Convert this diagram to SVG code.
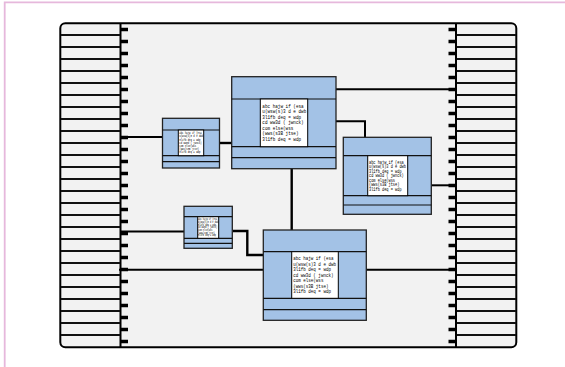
<svg xmlns="http://www.w3.org/2000/svg" width="565" height="367" viewBox="0 0 565 367">
<style>
.f{fill:#f2f2f2;stroke:#000;stroke-width:2}
.r{stroke:#111;stroke-width:1.8;fill:none}
.t{stroke:#000;stroke-width:3.4;fill:none}
.c{stroke:#000;stroke-width:2;fill:none}
.h{stroke:#000;stroke-width:2.4;fill:none}
.b{fill:#a3c2e6;stroke:#222;stroke-width:1.3}
.w{fill:#fff;stroke:#000;stroke-width:1}
.l{font-family:"Liberation Mono",monospace;fill:#000}
.s{stroke:#111;stroke-width:1.2;fill:none}
</style>
<rect x="0" y="0" width="565" height="367" fill="#fff"/>
<path d="M4.700 367V2.300H565" fill="none" stroke="#e6b8dc" stroke-width="1.800"/>
<g id="frame">
<rect class="f" x="60.300" y="23.300" width="456" height="324" rx="5"/>
<path class="c" d="M120.500 23.300V347.300M456 23.300V347.300"/>
<path id="slotsL" class="r" d="M61 35H120M61 47H120M61 59H120M61 71H120M61 83H120M61 95H120M61 107H120M61 119H120M61 131H120M61 143H120M61 155H120M61 167H120M61 179H120M61 191H120M61 203H120M61 215H120M61 227H120M61 239H120M61 251H120M61 263H120M61 275H120M61 287H120M61 299H120M61 311H120M61 323H120M61 335H120"/>
<path id="slotsR" class="r" d="M457 35H516M457 47H516M457 59H516M457 71H516M457 83H516M457 95H516M457 107H516M457 119H516M457 131H516M457 143H516M457 155H516M457 167H516M457 179H516M457 191H516M457 203H516M457 215H516M457 227H516M457 239H516M457 251H516M457 263H516M457 275H516M457 287H516M457 299H516M457 311H516M457 323H516M457 335H516"/>
<path id="pinsL" class="t" d="M121 29.500H128M121 41.500H128M121 53.500H128M121 65.500H128M121 77.500H128M121 89.500H128M121 101.500H128M121 113.500H128M121 125.500H128M121 137.500H128M121 149.500H128M121 161.500H128M121 173.500H128M121 185.500H128M121 197.500H128M121 209.500H128M121 221.500H128M121 233.500H128M121 245.500H128M121 257.500H128M121 269.500H128M121 281.500H128M121 293.500H128M121 305.500H128M121 317.500H128M121 329.500H128M121 341.500H128"/>
<path id="pinsR" class="t" d="M448.500 29.500H455.500M448.500 41.500H455.500M448.500 53.500H455.500M448.500 65.500H455.500M448.500 77.500H455.500M448.500 89.500H455.500M448.500 101.500H455.500M448.500 113.500H455.500M448.500 125.500H455.500M448.500 137.500H455.500M448.500 149.500H455.500M448.500 161.500H455.500M448.500 173.500H455.500M448.500 185.500H455.500M448.500 197.500H455.500M448.500 209.500H455.500M448.500 221.500H455.500M448.500 233.500H455.500M448.500 245.500H455.500M448.500 257.500H455.500M448.500 269.500H455.500M448.500 281.500H455.500M448.500 293.500H455.500M448.500 305.500H455.500M448.500 317.500H455.500M448.500 329.500H455.500M448.500 341.500H455.500"/>
</g>
<g id="connectors">
<path class="c" d="M120 137H163"/>
<path class="c" d="M120 231.500H184"/>
<path class="c" d="M119 269.700H263"/>
<path class="h" d="M220 143H232"/>
<path class="c" d="M336 89.300H456"/>
<path class="c" d="M336 121.300H365V138"/>
<path class="c" d="M431.500 185.300H456"/>
<path class="h" d="M291.700 168V230"/>
<path class="h" d="M233 231H247.300V255H263"/>
<path class="c" d="M366 269.700H456"/>
</g>
<g id="node1">
<rect class="b" x="162.500" y="118.300" width="57" height="49.700"/>
<path class="s" d="M162.500 130H219.500M162.500 155.700H219.500M162.500 161.700H219.500"/>
<rect class="w" x="178.300" y="130" width="25.400" height="25.700"/>
<g transform="translate(179.300,0) scale(.78,1)">
<text class="l" x="0" y="134.400" font-size="3">abc hajw if (esa</text>
<text class="l" x="0" y="137.500" font-size="3">u(wsw(s)3 d e dwb</text>
<text class="l" x="0" y="140.600" font-size="3">3l1fb deq = wdp</text>
<text class="l" x="0" y="143.700" font-size="3">cd ww3d ( jwnck)</text>
<text class="l" x="0" y="146.800" font-size="3">com else(wss</text>
<text class="l" x="0" y="149.900" font-size="3">(wws(s3B jtse)</text>
<text class="l" x="0" y="153" font-size="3">3l1fb deq = wdp</text>
</g>
</g>
<g id="node2">
<rect class="b" x="231.700" y="76.700" width="104.300" height="92"/>
<path class="s" d="M231.700 99H336M231.700 146.700H336M231.700 157.700H336"/>
<rect class="w" x="260.300" y="99" width="47.400" height="47.700"/>
<g transform="translate(262.300,0) scale(.8,1)">
<text class="l" x="0" y="107.800" font-size="5.400">abc hajw if (esa</text>
<text class="l" x="0" y="113.300" font-size="5.400">u(wsw(s)3 d e dwb</text>
<text class="l" x="0" y="118.800" font-size="5.400">3l1fb deq = wdp</text>
<text class="l" x="0" y="124.300" font-size="5.400">cd ww3d ( jwnck)</text>
<text class="l" x="0" y="129.800" font-size="5.400">com else(wss</text>
<text class="l" x="0" y="135.300" font-size="5.400">(wws(s3B jtse)</text>
<text class="l" x="0" y="140.800" font-size="5.400">3l1fb deq = wdp</text>
</g>
</g>
<g id="node3">
<rect class="b" x="343.300" y="137.300" width="88" height="77"/>
<path class="s" d="M343.300 155.700H431.300M343.300 195.700H431.300M343.300 205H431.300"/>
<rect class="w" x="367.700" y="155.700" width="40" height="40"/>
<g transform="translate(369,0) scale(.79,1)">
<text class="l" x="0" y="163.700" font-size="4.600">abc hajw if (esa</text>
<text class="l" x="0" y="168.200" font-size="4.600">u(wsw(s)3 d e dwb</text>
<text class="l" x="0" y="172.700" font-size="4.600">3l1fb deq = wdp</text>
<text class="l" x="0" y="177.200" font-size="4.600">cd ww3d ( jwnck)</text>
<text class="l" x="0" y="181.700" font-size="4.600">com else(wss</text>
<text class="l" x="0" y="186.200" font-size="4.600">(wws(s3B jtse)</text>
<text class="l" x="0" y="190.700" font-size="4.600">3l1fb deq = wdp</text>
</g>
</g>
<g id="node4">
<rect class="b" x="184" y="206.300" width="48.300" height="42"/>
<path class="s" d="M184 216.700H232.300M184 238.300H232.300M184 243.300H232.300"/>
<rect class="w" x="197.700" y="216.700" width="21" height="21.600"/>
<g transform="translate(198,0) scale(.77,1)">
<text class="l" x="0" y="220.200" font-size="2.600">abc hajw if (esa</text>
<text class="l" x="0" y="222.900" font-size="2.600">u(wsw(s)3 d e dwb</text>
<text class="l" x="0" y="225.600" font-size="2.600">3l1fb deq = wdp</text>
<text class="l" x="0" y="228.300" font-size="2.600">cd ww3d ( jwnck)</text>
<text class="l" x="0" y="231" font-size="2.600">com else(wss</text>
<text class="l" x="0" y="233.700" font-size="2.600">(wws(s3B jtse)</text>
<text class="l" x="0" y="236.400" font-size="2.600">3l1fb deq = wdp</text>
</g>
</g>
<g id="node5">
<rect class="b" x="263.300" y="230" width="103" height="90.300"/>
<path class="s" d="M263.300 251.700H366.300M263.300 298.300H366.300M263.300 309.700H366.300"/>
<rect class="w" x="291.700" y="251.700" width="46.600" height="46.600"/>
<g transform="translate(293.300,0) scale(.79,1)">
<text class="l" x="0" y="260.400" font-size="5.300">abc hajw if (esa</text>
<text class="l" x="0" y="265.850" font-size="5.300">u(wsw(s)3 d e dwb</text>
<text class="l" x="0" y="271.300" font-size="5.300">3l1fb deq = wdp</text>
<text class="l" x="0" y="276.750" font-size="5.300">cd ww3d ( jwnck)</text>
<text class="l" x="0" y="282.200" font-size="5.300">com else(wss</text>
<text class="l" x="0" y="287.650" font-size="5.300">(wws(s3B jtse)</text>
<text class="l" x="0" y="293.100" font-size="5.300">3l1fb deq = wdp</text>
</g>
</g>
</svg>
